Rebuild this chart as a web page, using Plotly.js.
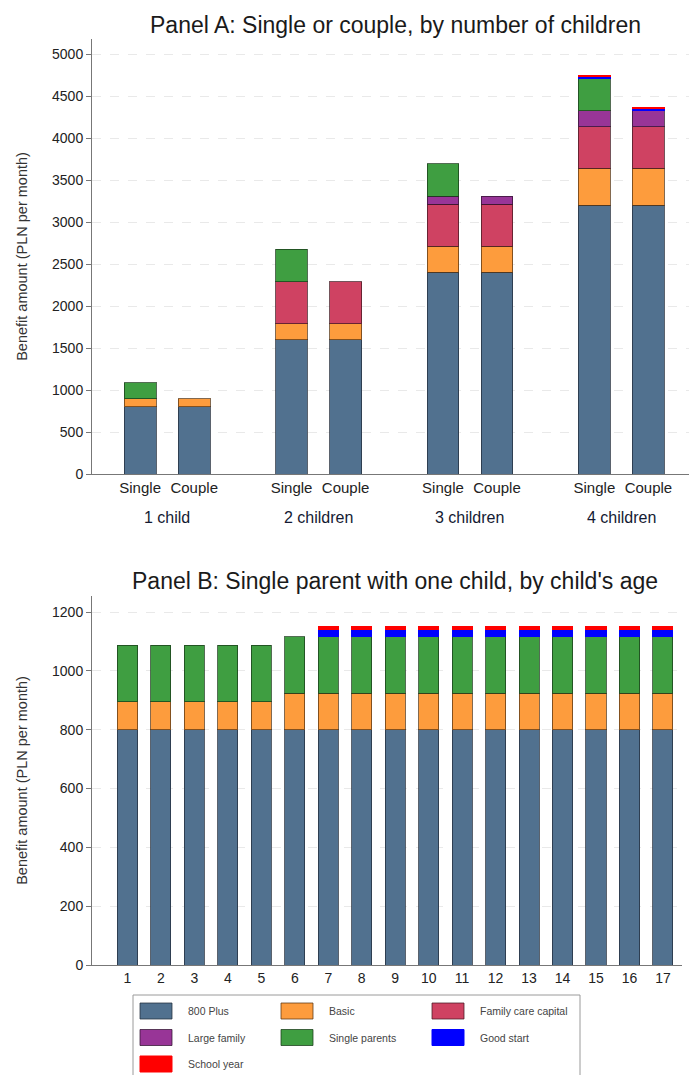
<!DOCTYPE html>
<html>
<head>
<meta charset="utf-8">
<script src="https://cdn.plot.ly/plotly-3.0.1.min.js"></script>
<style>html,body{margin:0;padding:0;background:#fff;}#chart{width:689px;height:1075px;}</style>
</head>
<body>
<div id="chart"></div>
<script>
// ---------- DATA ----------
const householdTypes = ['Single', 'Couple'];
const childGroups = ['1 child', '2 children', '3 children', '4 children'];
const seriesNames = ['800 Plus', 'Basic', 'Family care capital', 'Large family', 'Single parents', 'Good start', 'School year'];

// Panel A: bars ordered 1 child Single, 1 child Couple, 2 children Single, ...
const plus800A       = [800, 800, 1600, 1600, 2400, 2400, 3200, 3200];
const basicA         = [95, 95, 190, 190, 314, 314, 438, 438];
const familyCareA    = [0, 0, 500, 500, 500, 500, 500, 500];
const largeFamilyA   = [0, 0, 0, 0, 95, 95, 190, 190];
const singleParentsA = [193, 0, 386, 0, 386, 0, 386, 0];
const goodStartA     = [0, 0, 0, 0, 0, 0, 25, 25];
const schoolYearA    = [0, 0, 0, 0, 0, 0, 8.33, 8.33];

// Panel B: single parent with one child, by child's age
const childAges      = [1, 2, 3, 4, 5, 6, 7, 8, 9, 10, 11, 12, 13, 14, 15, 16, 17];
const plus800B       = [800, 800, 800, 800, 800, 800, 800, 800, 800, 800, 800, 800, 800, 800, 800, 800, 800];
const basicB         = [95, 95, 95, 95, 95, 124, 124, 124, 124, 124, 124, 124, 124, 124, 124, 124, 124];
const singleParentsB = [193, 193, 193, 193, 193, 193, 193, 193, 193, 193, 193, 193, 193, 193, 193, 193, 193];
const goodStartB     = [0, 0, 0, 0, 0, 0, 25, 25, 25, 25, 25, 25, 25, 25, 25, 25, 25];
const schoolYearB    = [0, 0, 0, 0, 0, 0, 8.33, 8.33, 8.33, 8.33, 8.33, 8.33, 8.33, 8.33, 8.33, 8.33, 8.33];

const yTicksA = [0, 500, 1000, 1500, 2000, 2500, 3000, 3500, 4000, 4500, 5000];
const yTicksB = [0, 200, 400, 600, 800, 1000, 1200];

// ---------- STYLE ----------
const W = 689, H = 1075;
const FONT = 'Liberation Sans, Arial, sans-serif';
const colors = ['#51718f', '#fd9c3d', '#cf4262', '#983597', '#3f9e41', '#0000ff', '#ff0000'];
const lineColors = ['rgba(35,45,60,0.75)', 'rgba(90,55,20,0.75)', 'rgba(70,25,35,0.75)', 'rgba(50,20,50,0.75)', 'rgba(25,60,25,0.75)', '#0000ff', '#ff0000'];

const px = v => v / W;            // pixel x -> paper
const py = v => 1 - v / H;        // pixel y (from top) -> paper
const noZero = arr => arr.map(v => (v === 0 ? null : v));

// bar positions for panel A (pair within group, gap between groups)
const groupStep = 2.8;
const posA = [];
const tickTextA = [];
childGroups.forEach((g, gi) => householdTypes.forEach((h, hi) => {
  posA.push(gi * groupStep + hi);
  tickTextA.push(h);
}));

const seriesA = [plus800A, basicA, familyCareA, largeFamilyA, singleParentsA, goodStartA, schoolYearA];
const seriesB = [plus800B, basicB, null, null, singleParentsB, goodStartB, schoolYearB];

const traces = [];
seriesA.forEach((vals, i) => {
  traces.push({
    type: 'bar', name: seriesNames[i], x: posA, y: noZero(vals), xaxis: 'x', yaxis: 'y',
    width: 0.59, marker: {color: colors[i], line: {color: lineColors[i], width: 1}},
    showlegend: false, hoverinfo: 'name+y'
  });
});
seriesB.forEach((vals, i) => {
  if (!vals) return;
  traces.push({
    type: 'bar', name: seriesNames[i], x: childAges, y: noZero(vals), xaxis: 'x2', yaxis: 'y2',
    width: 0.6, marker: {color: colors[i], line: {color: lineColors[i], width: 1}},
    showlegend: false, hoverinfo: 'name+y'
  });
});

const axisCommonY = {
  showline: true, linecolor: '#777', linewidth: 1,
  ticks: 'outside', ticklen: 5, tickcolor: '#777',
  tickfont: {family: FONT, size: 14, color: '#222'},
  showgrid: true, gridcolor: '#e9e9e9', griddash: 'dash', gridwidth: 1,
  zeroline: false, fixedrange: true,
  title: {text: 'Benefit amount (PLN per month)', font: {family: FONT, size: 14.5, color: '#333'}, standoff: 20}
};

const annotations = [];
// group labels panel A
childGroups.forEach((g, gi) => {
  const xs = posA.slice(gi * householdTypes.length, (gi + 1) * householdTypes.length);
  annotations.push({
    text: g, x: xs.reduce((a, b) => a + b, 0) / xs.length, xref: 'x',
    y: py(517), yref: 'paper', showarrow: false, xanchor: 'center', yanchor: 'middle',
    font: {family: FONT, size: 16, color: '#141a33'}
  });
});
// titles
annotations.push({text: 'Panel A: Single or couple, by number of children', x: px(395), y: py(25), xref: 'paper', yref: 'paper',
  showarrow: false, xanchor: 'center', yanchor: 'middle', font: {family: FONT, size: 23, color: '#1a1a1a'}});
annotations.push({text: "Panel B: Single parent with one child, by child's age", x: px(395), y: py(581), xref: 'paper', yref: 'paper',
  showarrow: false, xanchor: 'center', yanchor: 'middle', font: {family: FONT, size: 23, color: '#1a1a1a'}});

// custom legend (3 columns)
const shapes = [];
shapes.push({type: 'rect', xref: 'paper', yref: 'paper', x0: px(133), x1: px(580), y0: py(995), y1: py(1080),
  line: {color: '#9a9a9a', width: 1}, fillcolor: 'rgba(0,0,0,0)'});
const colSwatchX = [140, 281, 432];
const colTextX = [186, 327, 478];
const rowY = [1011, 1037.5, 1064];
seriesNames.forEach((name, i) => {
  const c = i % 3, r = Math.floor(i / 3);
  shapes.push({type: 'rect', xref: 'paper', yref: 'paper',
    x0: px(colSwatchX[c]), x1: px(colSwatchX[c] + 32), y0: py(rowY[r] - 8), y1: py(rowY[r] + 8),
    fillcolor: colors[i], line: {color: lineColors[i], width: 1}});
  annotations.push({text: name, x: px(colTextX[c]), y: py(rowY[r]), xref: 'paper', yref: 'paper',
    showarrow: false, xanchor: 'left', yanchor: 'middle', font: {family: FONT, size: 10.5, color: '#444'}});
});

const layout = {
  width: W, height: H, margin: {l: 0, r: 0, t: 0, b: 0},
  paper_bgcolor: '#fff', plot_bgcolor: '#fff',
  barmode: 'stack', showlegend: false,
  xaxis: {
    domain: [px(92), 1], range: [-0.89, 10.15], anchor: 'y',
    tickmode: 'array', tickvals: posA, ticktext: tickTextA, ticks: '',
    tickfont: {family: FONT, size: 15, color: '#222'},
    showline: true, linecolor: '#777', linewidth: 1, showgrid: false, zeroline: false, fixedrange: true
  },
  yaxis: Object.assign({}, axisCommonY, {domain: [py(474), py(39)], range: [0, 5180], anchor: 'x',
    tickmode: 'array', tickvals: yTicksA}),
  xaxis2: {
    domain: [px(92), px(682)], range: [-0.06, 17.57], anchor: 'y2',
    tickmode: 'array', tickvals: childAges, ticktext: childAges.map(String), ticks: '',
    tickfont: {family: FONT, size: 14, color: '#222'},
    showline: true, linecolor: '#777', linewidth: 1, showgrid: false, zeroline: false, fixedrange: true
  },
  yaxis2: Object.assign({}, axisCommonY, {domain: [py(965), py(596)], range: [0, 1255], anchor: 'x2',
    tickmode: 'array', tickvals: yTicksB}),
  annotations: annotations,
  shapes: shapes
};

Plotly.newPlot('chart', traces, layout, {displayModeBar: false, staticPlot: true});
</script>
</body>
</html>
